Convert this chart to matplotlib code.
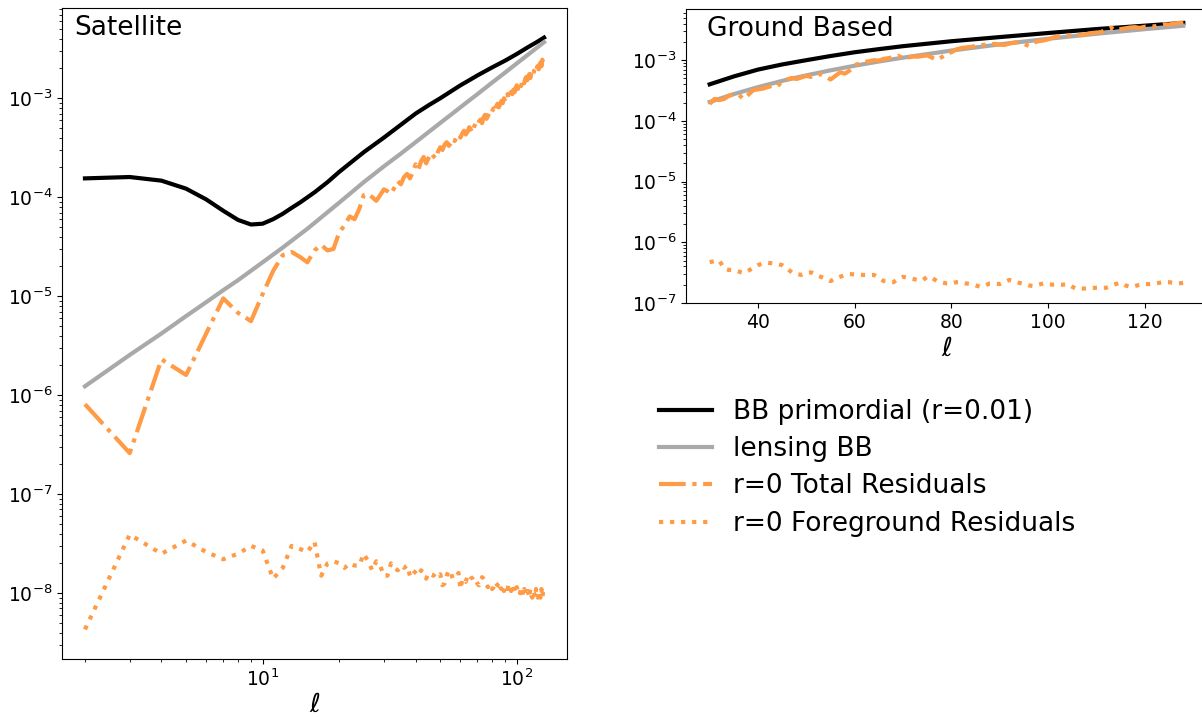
import numpy as np
import matplotlib
matplotlib.use("Agg")
import matplotlib.pyplot as plt

# ---------------- data ----------------
# Satellite panel: ell = 2..128
ell_sat = list(range(2, 129))

# theory curves (knots)
ell_prim = [2, 3, 4, 5, 6, 7, 8, 9, 10, 11, 12, 13, 14, 16, 18, 20, 25, 30, 35, 40, 45, 50, 55, 60, 65,
            70, 80, 90, 100, 110, 120, 128]
bb_prim = [1.55e-4, 1.6e-4, 1.47e-4, 1.22e-4, 9.5e-5, 7.3e-5, 5.9e-5, 5.3e-5, 5.4e-5, 6.0e-5, 6.8e-5,
           7.8e-5, 8.8e-5, 1.12e-4, 1.42e-4, 1.8e-4, 2.85e-4, 4.0e-4, 5.4e-4, 7.0e-4, 8.5e-4, 1.0e-3,
           1.17e-3, 1.35e-3, 1.52e-3, 1.7e-3, 2.05e-3, 2.4e-3, 2.8e-3, 3.25e-3, 3.7e-3, 4.1e-3]

ell_lens = [2, 3, 4, 5, 6, 7, 8, 10, 12, 15, 20, 25, 30, 35, 40, 45, 50, 55, 60, 65, 70, 80, 90, 100,
            110, 120, 128]
bb_lens = [1.23e-6, 2.55e-6, 4.2e-6, 6.3e-6, 8.7e-6, 1.15e-5, 1.45e-5, 2.2e-5, 3.1e-5, 4.8e-5, 8.8e-5,
           1.42e-4, 2.05e-4, 2.76e-4, 3.6e-4, 4.56e-4, 5.63e-4, 6.8e-4, 8.1e-4, 9.5e-4, 1.1e-3, 1.44e-3,
           1.82e-3, 2.25e-3, 2.72e-3, 3.24e-3, 3.69e-3]

sat_total = [8.1e-7, 2.6e-7, 2.3e-6, 1.6e-6, 4.2e-6, 9.5e-6, 6.8e-6, 5.6e-6, 1.05e-5, 1.8e-5,
             2.6e-5, 2.8e-5, 2.5e-5, 2.2e-5, 2.9e-5, 3.3e-5, 2.9e-5, 3.0e-5, 4.4e-5, 5.2e-5,
             6.4e-5, 6.0e-5, 7.6e-5, 1.05e-4, 1.08e-4, 1.0e-4, 9.2e-5, 1.05e-4, 1.2e-4, 1.15e-4,
             1.08e-4, 1.25e-4, 1.45e-4, 1.35e-4, 1.6e-4, 1.72e-4, 1.55e-4, 1.8e-4, 2.15e-4, 1.9e-4,
             2.3e-4, 2.55e-4, 2.2e-4, 2.5e-4, 2.8e-4, 2.6e-4, 2.45e-4, 2.9e-4, 3.2e-4, 3.0e-4,
             3.4e-4, 3.6e-4, 3.3e-4, 3.5e-4, 3.9e-4, 3.7e-4, 4.1e-4, 4.3e-4, 4.0e-4, 4.4e-4,
             4.7e-4, 4.3e-4, 4.6e-4, 5.1e-4, 4.8e-4, 4.5e-4, 5.2e-4, 5.6e-4, 5.3e-4, 5.8e-4,
             6.1e-4, 5.6e-4, 6.4e-4, 6.8e-4, 6.2e-4, 6.6e-4, 7.2e-4, 6.9e-4, 7.4e-4, 7.9e-4,
             7.3e-4, 8.3e-4, 8.8e-4, 8.1e-4, 8.7e-4, 9.4e-4, 8.9e-4, 1.0e-3, 9.3e-4, 1.04e-3,
             1.1e-3, 9.8e-4, 1.08e-3, 1.16e-3, 1.1e-3, 1.22e-3, 1.15e-3, 1.27e-3, 1.35e-3, 1.24e-3,
             1.38e-3, 1.44e-3, 1.33e-3, 1.47e-3, 1.55e-3, 1.42e-3, 1.58e-3, 1.64e-3, 1.52e-3, 1.68e-3,
             1.75e-3, 1.6e-3, 1.78e-3, 1.86e-3, 1.72e-3, 1.9e-3, 1.98e-3, 1.85e-3, 2.05e-3, 2.12e-3,
             1.96e-3, 2.2e-3, 2.3e-3, 2.1e-3, 2.45e-3, 2.25e-3, 2.5e-3]

sat_fg = [4.3e-9, 3.9e-8, 2.5e-8, 3.4e-8, 2.6e-8, 2.2e-8, 2.5e-8, 3.0e-8, 2.7e-8, 1.4e-8,
          1.8e-8, 3.0e-8, 2.8e-8, 2.6e-8, 3.3e-8, 1.5e-8, 2.0e-8, 2.1e-8, 2.0e-8, 1.8e-8,
          2.0e-8, 1.9e-8, 1.9e-8, 2.5e-8, 2.1e-8, 1.7e-8, 2.1e-8, 1.9e-8, 1.5e-8, 1.5e-8,
          2.0e-8, 1.8e-8, 1.7e-8, 1.9e-8, 1.8e-8, 1.9e-8, 1.5e-8, 1.7e-8, 1.6e-8, 1.5e-8,
          1.7e-8, 1.6e-8, 1.4e-8, 1.6e-8, 1.55e-8, 1.5e-8, 1.6e-8, 1.5e-8, 1.55e-8, 1.2e-8,
          1.25e-8, 1.5e-8, 1.7e-8, 1.6e-8, 1.4e-8, 1.45e-8, 1.5e-8, 1.6e-8, 1.1e-8, 1.35e-8,
          1.4e-8, 1.3e-8, 1.5e-8, 1.55e-8, 1.45e-8, 1.4e-8, 1.3e-8, 1.35e-8, 1.25e-8, 1.2e-8,
          1.3e-8, 1.45e-8, 1.4e-8, 1.3e-8, 1.2e-8, 1.15e-8, 1.25e-8, 1.2e-8, 1.1e-8, 1.15e-8,
          1.3e-8, 1.25e-8, 1.2e-8, 1.3e-8, 1.15e-8, 1.1e-8, 1.2e-8, 1.05e-8, 1.15e-8, 1.2e-8,
          1.1e-8, 1.25e-8, 1.15e-8, 1.05e-8, 1.1e-8, 1.2e-8, 1.05e-8, 1.0e-8, 1.15e-8, 1.05e-8,
          1.1e-8, 1.0e-8, 1.15e-8, 1.05e-8, 9.5e-9, 1.1e-8, 1.0e-8, 9.5e-9, 1.05e-8, 1.0e-8,
          9.0e-9, 1.1e-8, 9.5e-9, 9.0e-9, 1.05e-8, 1.0e-8, 9.0e-9, 1.1e-8, 9.5e-9, 9.0e-9,
          1.05e-8, 9.5e-9, 9.0e-9, 1.1e-8, 9.0e-9, 1.05e-8, 1.1e-8]

# Ground-based panel: ell = 30..128
ell_gb = list(range(30, 129))

gb_total = [1.9e-4, 2.3e-4, 2.2e-4, 2.3e-4, 2.6e-4, 2.75e-4, 2.7e-4, 2.3e-4, 2.7e-4, 3.2e-4,
            3.3e-4, 3.4e-4, 3.6e-4, 3.8e-4, 3.7e-4, 4.5e-4, 4.8e-4, 5.1e-4, 4.9e-4, 5.2e-4,
            5.5e-4, 5.3e-4, 5.6e-4, 5.9e-4, 5.4e-4, 4.8e-4, 5.5e-4, 6.3e-4, 6.0e-4, 6.8e-4,
            8.3e-4, 8.8e-4, 9.4e-4, 9.6e-4, 1.0e-3, 9.8e-4, 1.05e-3, 1.08e-3, 1.12e-3, 1.18e-3,
            1.08e-3, 1.1e-3, 1.15e-3, 1.14e-3, 1.17e-3, 1.2e-3, 1.1e-3, 1.02e-3, 1.12e-3, 1.28e-3,
            1.35e-3, 1.5e-3, 1.58e-3, 1.62e-3, 1.65e-3, 1.72e-3, 1.75e-3, 1.8e-3, 1.82e-3, 1.85e-3,
            1.8e-3, 1.78e-3, 1.88e-3, 1.95e-3, 1.98e-3, 1.85e-3, 1.72e-3, 1.95e-3, 2.05e-3, 2.1e-3,
            2.2e-3, 2.35e-3, 2.45e-3, 2.5e-3, 2.55e-3, 2.6e-3, 2.62e-3, 2.58e-3, 2.7e-3, 2.8e-3,
            2.85e-3, 2.9e-3, 3.2e-3, 3.45e-3, 3.1e-3, 3.25e-3, 3.35e-3, 3.45e-3, 3.5e-3, 3.4e-3,
            3.55e-3, 3.65e-3, 3.6e-3, 3.75e-3, 3.9e-3, 3.85e-3, 4.0e-3, 4.1e-3, 4.2e-3]

gb_fg = [4.7e-7, 4.9e-7, 5.0e-7, 3.7e-7, 3.5e-7, 3.5e-7, 3.3e-7, 3.1e-7, 3.4e-7, 3.8e-7,
         4.2e-7, 4.5e-7, 4.6e-7, 4.5e-7, 4.4e-7, 4.2e-7, 3.7e-7, 3.2e-7, 3.0e-7, 2.9e-7,
         3.1e-7, 3.2e-7, 2.9e-7, 2.7e-7, 2.5e-7, 2.3e-7, 2.5e-7, 2.7e-7, 2.9e-7, 3.0e-7,
         2.95e-7, 2.9e-7, 2.9e-7, 2.9e-7, 2.9e-7, 2.6e-7, 2.3e-7, 2.25e-7, 2.2e-7, 2.5e-7,
         2.7e-7, 2.6e-7, 2.5e-7, 2.4e-7, 2.35e-7, 2.7e-7, 2.6e-7, 2.3e-7, 2.2e-7, 2.1e-7,
         2.1e-7, 2.2e-7, 2.2e-7, 2.1e-7, 2.05e-7, 1.95e-7, 1.85e-7, 1.95e-7, 2.1e-7, 2.1e-7,
         2.05e-7, 2.2e-7, 2.4e-7, 2.3e-7, 2.15e-7, 2.05e-7, 1.95e-7, 1.9e-7, 2.0e-7, 2.1e-7,
         2.05e-7, 2.0e-7, 2.0e-7, 2.0e-7, 2.05e-7, 1.85e-7, 1.7e-7, 1.72e-7, 1.75e-7, 1.77e-7,
         1.78e-7, 1.78e-7, 1.78e-7, 1.9e-7, 2.05e-7, 2.15e-7, 1.95e-7, 1.85e-7, 1.9e-7, 2.0e-7,
         2.05e-7, 2.05e-7, 2.1e-7, 2.15e-7, 2.2e-7, 2.2e-7, 2.15e-7, 2.1e-7, 2.15e-7]

labels = ["BB primordial (r=0.01)", "lensing BB", "r=0 Total Residuals", "r=0 Foreground Residuals"]

# ---------------- styles ----------------
c_black = "black"
c_gray = "darkgray"
c_orange = "#ff9a45"
lw = 3.0

W, H = 1202, 717
fig = plt.figure(figsize=(W / 100, H / 100), dpi=100)

ax1 = fig.add_axes([62 / W, 1 - 659 / H, 505 / W, 651 / H])
ax2 = fig.add_axes([686 / W, 1 - 303 / H, 521 / W, 294 / H])

# Satellite
h1, = ax1.plot(ell_prim, bb_prim, color=c_black, lw=lw)
h2, = ax1.plot(ell_lens, bb_lens, color=c_gray, lw=lw)
h3, = ax1.plot(ell_sat, sat_total, color=c_orange, lw=lw, ls="-.")
h4, = ax1.plot(ell_sat, sat_fg, color=c_orange, lw=lw, ls=":")
ax1.set_xscale("log")
ax1.set_yscale("log")
ax1.set_xlabel(r"$\ell$", fontsize=19, labelpad=1)
ax1.text(0.025, 0.99, "Satellite", transform=ax1.transAxes, ha="left", va="top", fontsize=19)

# Ground based (theory restricted to the ground-based range)
lp = [l for l in ell_prim if l >= 30]
bp = [b for l, b in zip(ell_prim, bb_prim) if l >= 30]
ll = [l for l in ell_lens if l >= 30]
bl = [b for l, b in zip(ell_lens, bb_lens) if l >= 30]
ax2.plot(lp, bp, color=c_black, lw=lw)
ax2.plot(ll, bl, color=c_gray, lw=lw)
ax2.plot(ell_gb, gb_total, color=c_orange, lw=lw, ls="-.")
ax2.plot(ell_gb, gb_fg, color=c_orange, lw=lw, ls=":")
ax2.set_yscale("log")
ax2.set_ylim(bottom=1e-7)
ax2.set_xlabel(r"$\ell$", fontsize=19, labelpad=3)
ax2.text(0.04, 0.975, "Ground Based", transform=ax2.transAxes, ha="left", va="top", fontsize=19)

for ax in (ax1, ax2):
    ax.tick_params(labelsize=13.5)

fig.legend([h1, h2, h3, h4], labels, loc="upper left", bbox_to_anchor=(635 / W, 1 - 375 / H),
           frameon=False, fontsize=19, handlelength=2.0, labelspacing=0.43)

fig.savefig("out.png", dpi=100)
